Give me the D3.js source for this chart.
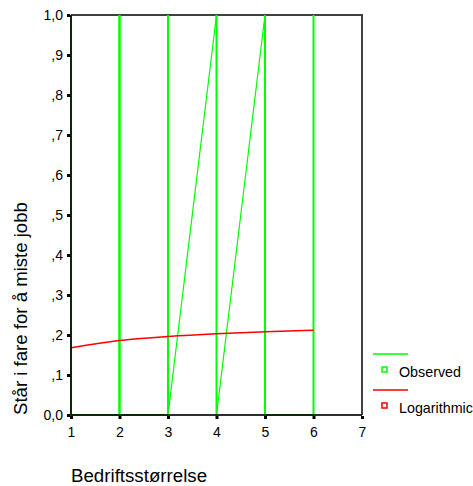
<!DOCTYPE html>
<html>
<head>
<meta charset="utf-8">
<script src="https://cdn.jsdelivr.net/npm/d3@7"></script>
<style>
  body { margin: 0; background: #fff; }
  text { font-family: "Liberation Sans", Arial, sans-serif; fill: #000; }
</style>
</head>
<body>
<div id="container"></div>
<script>
/* CONSTANTS AND GLOBALS */
const width = 473;
const height = 486;
const margin = { top: 15, right: 111, bottom: 71, left: 71 };

/* DATA */
// observed points in the order the line visits them
const obsX = [1, 1, 2, 2, 2, 3, 3, 3, 4, 4, 5, 5, 6, 6];
const obsY = [1, 0, 0, 1, 0, 0, 1, 0, 1, 0, 1, 0, 0, 1];
// fitted logarithmic curve
const logX = [1, 2, 3, 4, 5, 6];
const logY = [0.168, 0.186, 0.196, 0.203, 0.208, 0.212];
const xTicks = [1, 2, 3, 4, 5, 6, 7];
const yTicks = [0, 0.1, 0.2, 0.3, 0.4, 0.5, 0.6, 0.7, 0.8, 0.9, 1.0];
const yTickLabels = ["0,0", ",1", ",2", ",3", ",4", ",5", ",6", ",7", ",8", ",9", "1,0"];
const legendNames = ["Observed", "Logarithmic"];
const colors = ["#00ff00", "#ff0000"];

/* SCALES */
const xScale = d3.scaleLinear()
  .domain([1, 7])
  .range([margin.left, width - margin.right]);

const yScale = d3.scaleLinear()
  .domain([0, 1])
  .range([height - margin.bottom, margin.top]);

/* SVG ELEMENT */
const svg = d3.select("#container")
  .append("svg")
  .attr("width", width)
  .attr("height", height);

/* FRAME (top + right) */
svg.append("path")
  .attr("d", `M${xScale(1)},${yScale(1)}H${xScale(7)}V${yScale(0)}`)
  .attr("fill", "none")
  .attr("stroke", "#404040")
  .attr("stroke-width", 2);

/* OBSERVED LINE - one segment per step, diagonals drawn thinner */
const steps = d3.range(obsX.length - 1);

svg.append("g")
  .selectAll("line")
  .data(steps)
  .enter()
  .append("line")
  .attr("x1", i => xScale(obsX[i]))
  .attr("y1", i => yScale(obsY[i]))
  .attr("x2", i => xScale(obsX[i + 1]))
  .attr("y2", i => yScale(obsY[i + 1]))
  .attr("stroke", colors[0])
  .attr("stroke-width", i => (obsX[i] === obsX[i + 1] || obsY[i] === obsY[i + 1]) ? 2 : 1.2);

/* LOGARITHMIC CURVE */
const curve = d3.line()
  .x(i => xScale(logX[i]))
  .y(i => yScale(logY[i]))
  .curve(d3.curveMonotoneX);

svg.append("path")
  .attr("d", curve(d3.range(logX.length)))
  .attr("fill", "none")
  .attr("stroke", colors[1])
  .attr("stroke-width", 1.5);

/* AXES */
const yAxis = d3.axisLeft(yScale)
  .tickValues(yTicks)
  .tickFormat((d, i) => yTickLabels[i])
  .tickSize(3)
  .tickPadding(4);

const xAxis = d3.axisBottom(xScale)
  .tickValues(xTicks)
  .tickFormat(d3.format("d"))
  .tickSize(3)
  .tickPadding(8);

const gy = svg.append("g")
  .attr("transform", `translate(${margin.left - 1}, 0)`)
  .call(yAxis);

const gx = svg.append("g")
  .attr("transform", `translate(0, ${height - margin.bottom + 1})`)
  .call(xAxis);

[gx, gy].forEach(g => {
  g.select(".domain").remove();
  g.selectAll(".tick line").attr("stroke", "#000").attr("stroke-width", 3);
  g.selectAll(".tick text")
    .style("font-size", "14px")
    .style("font-family", "'Liberation Sans', Arial, sans-serif")
    .attr("fill", "#000");
});

// axis lines drawn over the observed line, so overlap looks dark green
svg.append("path")
  .attr("d", `M${xScale(1)},${yScale(1)}V${yScale(0)}H${xScale(7)}`)
  .attr("fill", "none")
  .attr("stroke", "#000")
  .attr("stroke-opacity", 0.82)
  .attr("stroke-width", 2);

/* AXIS LABELS */
svg.append("text")
  .attr("x", margin.left)
  .attr("y", 482)
  .style("font-size", "18.7px")
  .text("Bedriftsstørrelse");

svg.append("text")
  .attr("transform", "rotate(-90)")
  .attr("x", -(height - margin.bottom))
  .attr("y", 27)
  .style("font-size", "18.6px")
  .text("Står i fare for å miste jobb");

/* LEGEND */
const legend = svg.append("g").attr("transform", "translate(373, 354)");

legendNames.forEach((name, i) => {
  const g = legend.append("g").attr("transform", `translate(0, ${i * 36})`);
  g.append("line")
    .attr("x1", 0).attr("x2", 35)
    .attr("y1", 0).attr("y2", 0)
    .attr("stroke", colors[i])
    .attr("stroke-width", 1.5);
  g.append("rect")
    .attr("x", 9).attr("y", 13)
    .attr("width", 5).attr("height", 5)
    .attr("fill", "none")
    .attr("stroke", colors[i])
    .attr("stroke-width", 1.5);
  g.append("text")
    .attr("x", 26)
    .attr("y", 23)
    .style("font-size", "14.3px")
    .text(name);
});
</script>
</body>
</html>
